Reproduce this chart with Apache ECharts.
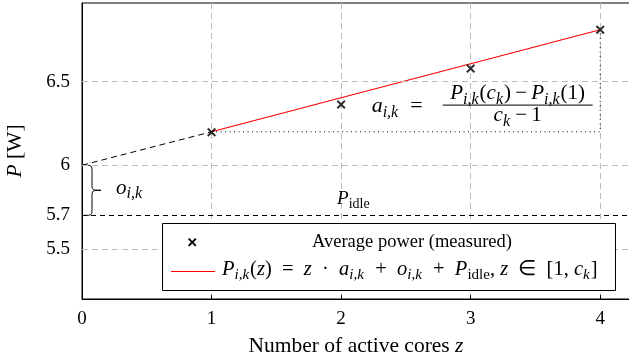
<!DOCTYPE html>
<html>
<head>
<meta charset="utf-8">
<script src="https://cdn.jsdelivr.net/npm/echarts@6/dist/echarts.min.js"></script>
<style>
html, body { margin: 0; padding: 0; background: #fff; }
#main { width: 629px; height: 364px; }
</style>
</head>
<body>
<div id="main"></div>
<script>
// measured points
const cores = [1, 2, 3, 4];
const measured = [6.197, 6.363, 6.578, 6.81];
// fitted model P(z) between z=1 and z=c_k
const fitZ = [1, 4];
const fitP = [6.2, 6.81];
// extrapolation to z=0 (o + P_idle)
const extraZ = [0, 1];
const extraP = [6.0, 6.2];
const pIdle = 5.7;
const yTicks = [5.5, 5.7, 6, 6.5];
const yGrid = [5.5, 6, 6.5];

const SERIF = '"Liberation Serif", "Times New Roman", serif';
const cross = 'path://M1.6,0 L5,3.4 L8.4,0 L10,1.6 L6.6,5 L10,8.4 L8.4,10 L5,6.6 L1.6,10 L0,8.4 L3.4,5 L0,1.6 Z';
const crossPts = [[1.6,0],[5,3.4],[8.4,0],[10,1.6],[6.6,5],[10,8.4],[8.4,10],[5,6.6],[1.6,10],[0,8.4],[3.4,5],[0,1.6]];

function mathRich(size) {
  return {
    it: { fontFamily: SERIF, fontStyle: 'italic', fontSize: size, color: '#000' },
    rm: { fontFamily: SERIF, fontSize: size, color: '#000' },
    sub: { fontFamily: SERIF, fontStyle: 'italic', fontSize: Math.round(size * 0.74), color: '#000', padding: [Math.round(size * 0.55), 1, 0, 0] },
    subrm: { fontFamily: SERIF, fontSize: Math.round(size * 0.74), color: '#000', padding: [Math.round(size * 0.55), 0, 0, 0] }
  };
}

let myChart = echarts.init(document.getElementById('main'));
myChart.setOption({
  animation: false,
  grid: { left: 82, right: -1, top: 3, bottom: 65, outerBoundsMode: 'none', containLabel: false, show: true, borderColor: '#000', borderWidth: 1 },
  xAxis: {
    type: 'value', min: 0, max: 4.23, interval: 1,
    name: 'Number of active cores {it|z}',
    nameLocation: 'middle', nameGap: 36,
    nameTextStyle: { fontFamily: SERIF, fontSize: 21.5, color: '#000', rich: { it: { fontFamily: SERIF, fontStyle: 'italic', fontSize: 21.5 } } },
    axisLine: { lineStyle: { color: '#000', width: 1 } },
    axisTick: { inside: true, length: 4, lineStyle: { color: '#000' } },
    axisLabel: { showMaxLabel: false, fontFamily: SERIF, fontSize: 19, color: '#000', margin: 11 },
    splitLine: { show: true, lineStyle: { color: '#bdbdbd', type: [6, 4], width: 1 } }
  },
  yAxis: {
    type: 'value', min: 5.2, max: 6.97,
    name: '{it|P} [W]',
    nameLocation: 'middle', nameGap: 56, nameRotate: 90,
    nameTextStyle: { fontFamily: SERIF, fontSize: 21.5, color: '#000', rich: { it: { fontFamily: SERIF, fontStyle: 'italic', fontSize: 21.5 } } },
    axisLine: { show: true, lineStyle: { color: '#000', width: 1 } },
    axisTick: { show: true, inside: true, length: 4, customValues: yTicks, lineStyle: { color: '#000' } },
    axisLabel: { customValues: yTicks, formatter: v => String(v), fontFamily: SERIF, fontSize: 19, color: '#000', margin: 12 },
    splitLine: { show: false }
  },
  series: [
    {
      name: 'grid', type: 'line', data: [], silent: true,
      markLine: {
        silent: true, symbol: 'none', label: { show: false },
        data: yGrid.map(v => ({ yAxis: v, lineStyle: { color: '#bdbdbd', type: [6, 4], width: 1 } }))
          .concat([{ yAxis: pIdle, lineStyle: { color: '#000', type: [5, 4], width: 1 } }])
      }
    },
    {
      name: 'extrapolation', type: 'line', symbol: 'none', z: 3,
      data: extraZ.map((z, i) => [z, extraP[i]]),
      lineStyle: { color: '#000', width: 1, type: [6, 4] }
    },
    {
      name: 'slope', type: 'line', symbol: 'none', z: 3,
      data: [[fitZ[0], fitP[0]], [fitZ[1], fitP[0]], [fitZ[1], fitP[1]]],
      lineStyle: { color: '#000', width: 1, type: [1, 3.5] }
    },
    {
      name: 'model', type: 'line', symbol: 'none', z: 4,
      data: fitZ.map((z, i) => [z, fitP[i]]),
      lineStyle: { color: '#ff0000', width: 1.2 }
    },
    {
      name: 'Average power (measured)', type: 'scatter', z: 5,
      symbol: cross, symbolSize: 9,
      itemStyle: { color: '#000' },
      data: cores.map((c, i) => [c, measured[i]])
    }
  ]
});

// annotations placed from data coordinates
const px = p => myChart.convertToPixel({ gridIndex: 0 }, p);
const o0 = px([0, extraP[0]]);
const oI = px([0, pIdle]);
const pI = px([2, pIdle]);
const pA = px([3, 6.5]);

const bx = o0[0] + 1, bw = 18, bm = bx + bw / 2, r = 7;
const y1 = o0[1], y2 = oI[1], ym = (y1 + y2) / 2;
const braceStyle = { stroke: '#000', lineWidth: 1, fill: null };
const brace = [
  { type: 'bezierCurve', shape: { x1: bx, y1: y1, cpx1: bm, cpy1: y1, cpx2: bm, cpy2: y1, x2: bm, y2: y1 + r }, style: braceStyle },
  { type: 'line', shape: { x1: bm, y1: y1 + r, x2: bm, y2: ym - r }, style: braceStyle },
  { type: 'bezierCurve', shape: { x1: bm, y1: ym - r, cpx1: bm, cpy1: ym, cpx2: bm, cpy2: ym, x2: bx + bw, y2: ym }, style: braceStyle },
  { type: 'bezierCurve', shape: { x1: bx + bw, y1: ym, cpx1: bm, cpy1: ym, cpx2: bm, cpy2: ym, x2: bm, y2: ym + r }, style: braceStyle },
  { type: 'line', shape: { x1: bm, y1: ym + r, x2: bm, y2: y2 - r }, style: braceStyle },
  { type: 'bezierCurve', shape: { x1: bm, y1: y2 - r, cpx1: bm, cpy1: y2, cpx2: bm, cpy2: y2, x2: bx, y2: y2 }, style: braceStyle }
];

const txt = (x, y, text, size, align, z) => ({
  type: 'text', x: x, y: y, z: z || 20,
  style: { text: text, rich: mathRich(size), fontFamily: SERIF, fontSize: size, fill: '#000', textAlign: align || 'left', textVerticalAlign: 'middle' }
});

const legX = 162, legY = 223, legW = 453, legH = 67;
const th = '\u2009';

myChart.setOption({
  graphic: brace.concat([
    txt(o0[0] + 34, o0[1] + 23, '{it|o}{sub|i,k}', 21),
    txt(pI[0] - 4, pI[1] - 16, '{it|P}{subrm|idle}', 19),
    txt(pA[0] - 99, pA[1] + 25, '{it|a}{sub|i,k}{rm|  =  }', 22),
    txt(pA[0] + 47, pA[1] + 12, '{it|P}{sub|i,k}{rm|(}{it|c}{sub|k}{rm|)' + th + '−' + th + '}{it|P}{sub|i,k}{rm|(1)}', 21, 'center'),
    { type: 'line', z: 20, shape: { x1: pA[0] - 28, y1: pA[1] + 23.5, x2: pA[0] + 122, y2: pA[1] + 23.5 }, style: { stroke: '#000', lineWidth: 1 } },
    txt(pA[0] + 47, pA[1] + 34, '{it|c}{sub|k}{rm|' + th + '−' + th + '1}', 21, 'center'),
    // legend box
    { type: 'rect', z: 30, shape: { x: legX + 0.5, y: legY + 0.5, width: legW, height: legH }, style: { fill: '#fff', stroke: '#000', lineWidth: 1 } },
    { type: 'polygon', z: 31, shape: { points: crossPts.map(p => [188 + p[0] * 0.85, 238 + p[1] * 0.85]) }, style: { fill: '#000' } },
    { type: 'text', z: 31, x: 412, y: 242, style: { text: 'Average power (measured)', fontFamily: SERIF, fontSize: 18.5, fill: '#000', textAlign: 'center', textVerticalAlign: 'middle' } },
    { type: 'line', z: 31, shape: { x1: 171, y1: 271.5, x2: 215, y2: 271.5 }, style: { stroke: '#ff0000', lineWidth: 1.2 } },
    txt(222, 270, '{it|P}{sub|i,k}{rm|(}{it|z}{rm|)  =  }{it|z}{rm|  ·  }{it|a}{sub|i,k}{rm|  +  }{it|o}{sub|i,k}{rm|  +  }{it|P}{subrm|idle}{rm|, }{it|z}{rm|  ∈  [1, }{it|c}{sub|k}{rm|]}', 20.5, 'left', 31)
  ])
});
</script>
</body>
</html>
